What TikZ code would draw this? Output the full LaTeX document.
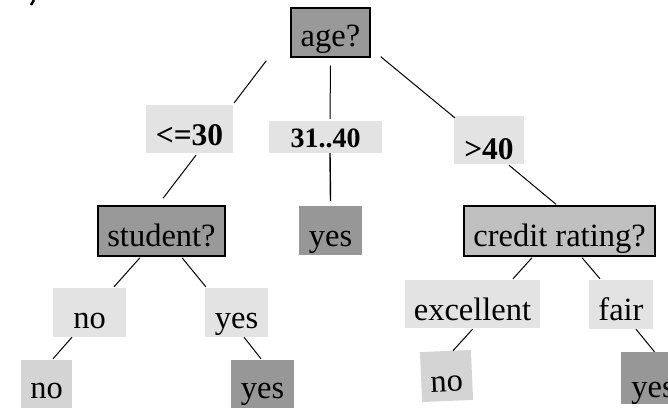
\documentclass[tikz,border=0pt]{standalone}
\usepackage{fontspec}
\setmainfont{Liberation Serif}

\definecolor{testgray}{HTML}{999999}
\definecolor{creditgray}{HTML}{C0C0C0}
\definecolor{branchgray}{HTML}{E3E3E3}
\definecolor{leafgray}{HTML}{D4D4D4}
\definecolor{yesgray}{HTML}{979797}

\tikzset{
  box/.style={inner sep=0pt, font=\fontsize{32.5}{37}\selectfont},
  sz/.style n args={3}{minimum width=#1pt, text height=#2pt, text depth=#3pt},
  test/.style={box, draw=black, line width=1.4pt},
  cond/.style={box, fill=branchgray, font=\bfseries\fontsize{31.5}{36}\selectfont},
  branch/.style={box, fill=branchgray},
  leafno/.style={box, fill=leafgray},
  leafyes/.style={box, fill=yesgray},
  edge/.style={line width=1pt}
}

\begin{document}
\begin{tikzpicture}[x=1pt,y=-1pt]
        \useasboundingbox (0,0) rectangle (668,409);
        \clip (0,0) rectangle (668,409);
        \draw[line width=2.5pt] (34,0) -- (31,5);

        \node[test, fill=testgray, sz={79}{39}{10}] (age) at (330.5,32.5) {age?};
        \node[cond, sz={87}{40}{8}] (le30) at (189.5,129) {<=30};
        \node[cond, font=\bfseries\fontsize{28}{32}\selectfont, sz={113}{26}{6}] (mid31) at (325.5,137) {31..40};
        \node[cond, sz={70}{43}{5}] (gt40) at (489,140) {>40};

        \node[test, fill=testgray, sz={127}{40}{10}] (student) at (161.5,231) {student?};
        \node[leafyes, sz={63}{40}{9}] (yesA) at (330.5,230.5) {yes};
        \node[test, fill=creditgray, sz={191}{40}{10}] (credit) at (559.5,231) {credit rating?};

        \node[branch, sz={73}{40}{9}] (noA) at (89.5,312.5) {no};
        \node[branch, sz={63}{40}{9}] (yesB) at (236.5,312.5) {yes};
        \node[branch, sz={135}{40}{8}] (excel) at (472.5,304) {excellent};
        \node[branch, sz={64}{40}{9}] (fair) at (621,304.5) {fair};

        \node[leafno, sz={51}{38}{10}] (noC) at (46.5,384) {no};
        \node[leafyes, sz={63}{38}{10}] (yesC) at (262.5,384) {yes};
        \node[leafno, sz={51}{41}{9}, rotate=2.5] (noD) at (446.5,376) {no};
        \node[leafyes, sz={64}{45}{7}] (yesD) at (653,378) {yes};

        \draw[edge] ([xshift=-24pt,yshift=-3pt]age.south west) -- ([xshift=1pt,yshift=2pt]le30.north east);
        \draw[edge] ([yshift=-8pt]age.south) -- ([xshift=4.5pt,yshift=2pt]mid31.north);
        \draw[edge] ([xshift=10pt,yshift=1pt]age.south east) -- ([xshift=1pt,yshift=-2pt]gt40.north west);

        \draw[edge] ([xshift=6.5pt,yshift=-2pt]le30.south) -- ([xshift=1.5pt,yshift=7pt]student.north);
        \draw[edge, line width=1.4pt] ([xshift=4.5pt]mid31.south) -- ([yshift=5pt]yesA.north);
        \draw[edge] ([xshift=20pt,yshift=-1pt]gt40.south) -- ([xshift=-3.5pt,yshift=1pt]credit.north);

        \draw[edge] ([xshift=-21.5pt,yshift=-1pt]student.south) -- ([xshift=24.5pt,yshift=1pt]noA.north);
        \draw[edge] ([xshift=20.5pt,yshift=-1pt]student.south) -- ([xshift=1pt,yshift=1pt]yesB.north west);
        \draw[edge] ([xshift=-17.5pt]noA.south) -- ([xshift=6.5pt,yshift=1pt]noC.north);
        \draw[edge] ([xshift=7.5pt]yesB.south) -- ([xshift=-1.5pt,yshift=1pt]yesC.north);

        \draw[edge] ([xshift=-27.5pt,yshift=-1pt]credit.south) -- ([xshift=40.5pt,yshift=1pt]excel.north);
        \draw[edge] ([xshift=22.5pt,yshift=-1pt]credit.south) -- ([xshift=-21pt,yshift=1pt]fair.north);
        \draw[edge] ([yshift=-1pt]excel.south) -- ([xshift=7.5pt]noD.north);
        \draw[edge] ([xshift=15pt]fair.south) -- ([xshift=1.5pt]yesD.north);
    \end{tikzpicture}
\end{document}
